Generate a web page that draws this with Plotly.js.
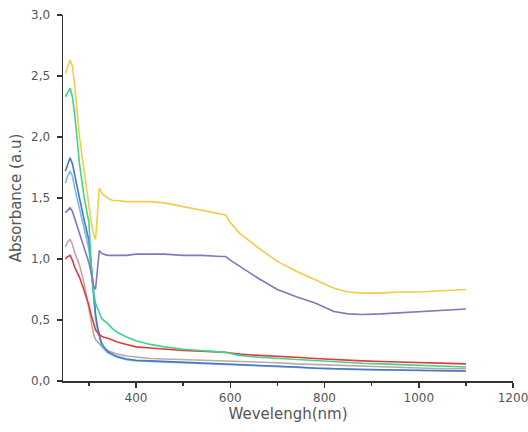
<!DOCTYPE html>
<html>
<head>
<meta charset="utf-8">
<script src="https://cdn.plot.ly/plotly-3.0.1.min.js"></script>
<style>html,body{margin:0;padding:0;background:#fff;}#chart{width:528px;height:432px;}</style>
</head>
<body>
<div id="chart"></div>
<script>
var wavelength = [250,255,260,265,270,280,290,300,305,310,314,318,322,326,330,340,350,360,380,400,430,460,500,540,580,590,600,620,660,700,740,780,820,850,880,920,960,1000,1050,1100];

var yellow = [2.52,2.58,2.63,2.58,2.42,2.00,1.72,1.42,1.30,1.20,1.16,1.36,1.58,1.55,1.53,1.50,1.48,1.48,1.47,1.47,1.47,1.46,1.43,1.40,1.37,1.36,1.30,1.21,1.09,0.98,0.90,0.83,0.76,0.73,0.72,0.72,0.73,0.73,0.74,0.75];
var purple = [1.38,1.40,1.42,1.39,1.33,1.22,1.10,0.97,0.88,0.78,0.75,0.90,1.07,1.05,1.04,1.03,1.03,1.03,1.03,1.04,1.04,1.04,1.03,1.03,1.02,1.02,0.99,0.94,0.84,0.75,0.69,0.64,0.57,0.55,0.545,0.55,0.56,0.57,0.58,0.59];
var green = [2.33,2.37,2.40,2.33,2.18,1.78,1.50,1.30,0.95,0.72,0.64,0.60,0.56,0.52,0.50,0.47,0.43,0.40,0.36,0.33,0.30,0.28,0.26,0.25,0.24,0.235,0.225,0.21,0.195,0.185,0.175,0.165,0.155,0.15,0.145,0.14,0.135,0.13,0.12,0.115];
var blue = [1.72,1.78,1.83,1.78,1.68,1.50,1.32,1.15,0.95,0.72,0.55,0.45,0.37,0.32,0.29,0.24,0.22,0.20,0.18,0.17,0.165,0.16,0.155,0.15,0.145,0.14,0.14,0.135,0.13,0.12,0.115,0.105,0.10,0.098,0.095,0.092,0.09,0.088,0.085,0.082];
var lightblue = [1.62,1.68,1.72,1.68,1.58,1.42,1.25,1.08,0.90,0.68,0.52,0.42,0.35,0.30,0.27,0.23,0.21,0.195,0.175,0.165,0.16,0.155,0.15,0.145,0.14,0.138,0.135,0.13,0.125,0.118,0.11,0.103,0.098,0.095,0.092,0.09,0.088,0.086,0.083,0.08];
var gray = [1.10,1.14,1.16,1.12,1.05,0.95,0.80,0.60,0.48,0.38,0.34,0.32,0.30,0.28,0.27,0.25,0.235,0.22,0.205,0.195,0.185,0.18,0.175,0.17,0.165,0.165,0.16,0.16,0.155,0.15,0.14,0.135,0.13,0.125,0.12,0.115,0.11,0.105,0.10,0.10];
var red = [1.00,1.02,1.03,0.99,0.93,0.85,0.74,0.62,0.54,0.46,0.42,0.40,0.38,0.37,0.36,0.35,0.335,0.32,0.30,0.28,0.27,0.26,0.25,0.245,0.24,0.235,0.23,0.22,0.21,0.205,0.195,0.185,0.175,0.17,0.165,0.16,0.155,0.15,0.145,0.14];

var seriesNames = ['gray','lightblue','blue','red','green','purple','yellow'];
var seriesData = [gray, lightblue, blue, red, green, purple, yellow];
var seriesColors = ['#bba9a9','#7fb8e6','#4b78c2','#e8363c','#3fd48e','#7b7bbd','#f4cc45'];

var xTickVals = [400,600,800,1000,1200];
var yTickVals = [0,0.5,1,1.5,2,2.5,3];

var traces = seriesData.map(function(d,i){
  return {x: wavelength, y: d, type:'scatter', mode:'lines', name: seriesNames[i],
    line:{color: seriesColors[i], width:1.6}};
});

var layout = {
  width:528, height:432,
  margin:{l:63, r:15, t:15, b:51},
  paper_bgcolor:'#fff', plot_bgcolor:'#fff',
  showlegend:false,
  separators:', ',
  font:{family:'DejaVu Sans, Liberation Sans, sans-serif', color:'#555', size:12},
  xaxis:{
    range:[245,1200], tickvals:xTickVals, ticks:'outside', ticklen:5, tickwidth:1.5, tickcolor:'#333',
    showline:true, linecolor:'#333', linewidth:1.5, showgrid:false, zeroline:false,
    ticklabeloverflow:'allow', automargin:false,
    minor:{dtick:100, tick0:0, ticks:'outside', ticklen:3, tickwidth:1.5, tickcolor:'#333'},
    title:{text:'Wevelengh(nm)', font:{size:15, color:'#555'}, standoff:2},
    tickfont:{size:12, color:'#555'}
  },
  yaxis:{
    range:[0,3], tickvals:yTickVals, tickformat:'.1f', ticks:'outside', ticklen:5, tickwidth:1.5, tickcolor:'#333',
    showline:true, linecolor:'#333', linewidth:1.5, showgrid:false, zeroline:false,
    ticklabelstandoff:4,
    title:{text:'Absorbance (a.u)', font:{size:15, color:'#555'}, standoff:6},
    tickfont:{size:12, color:'#555'}
  }
};

Plotly.newPlot('chart', traces, layout, {displayModeBar:false, staticPlot:true});
</script>
</body>
</html>
